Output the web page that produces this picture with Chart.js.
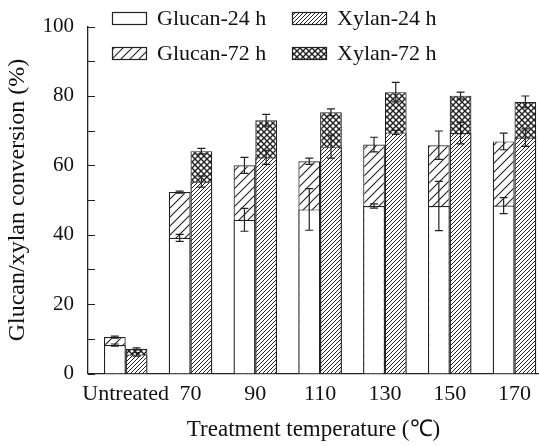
<!DOCTYPE html>
<html>
<head>
<meta charset="utf-8">
<script src="https://cdn.jsdelivr.net/npm/chart.js@4.4.1/dist/chart.umd.min.js"></script>
<style>
  html, body { margin: 0; padding: 0; background: #fff; overflow: hidden; }
</style>
</head>
<body>
<canvas id="conversionChart" width="539" height="446"></canvas>
<script>
// categories on the x axis
const categories = ['Untreated', '70', '90', '110', '130', '150', '170'];

// conversions (%), with +/- errors
const glucan24    = [8.2, 39.1, 44.3, 47.3, 48.3, 48.3, 48.4];
const glucan24Err = [0.3, 1.0, 3.3, 6.0, 0.6, 7.1, 2.3];
const glucan72    = [10.5, 52.3, 60.0, 61.2, 66.0, 65.8, 66.9];
const glucan72Err = [0.3, 0.3, 2.3, 0.9, 2.1, 4.1, 2.4];
const xylan24     = [5.5, 55.3, 62.3, 65.4, 69.5, 69.3, 68.0];
const xylan24Err  = [0.5, 1.6, 2.0, 3.3, 0.6, 3.1, 2.5];
const xylan72     = [7.1, 64.1, 73.0, 75.3, 81.1, 80.1, 78.3];
const xylan72Err  = [0.3, 0.8, 1.7, 1.0, 2.8, 1.0, 1.7];

const yTicks = [0, 20, 40, 60, 80, 100];

const ink = '#222';
const serif = "'Liberation Serif', 'Times New Roman', serif";

function makePattern(size, draw) {
  const c = document.createElement('canvas');
  c.width = size; c.height = size;
  const g = c.getContext('2d');
  g.fillStyle = '#fff';
  g.fillRect(0, 0, size, size);
  g.strokeStyle = ink;
  draw(g, size);
  return g.createPattern(c, 'repeat');
}
function slash(g, s) {      // lines x + y = k
  g.beginPath();
  [0, s, 2 * s].forEach(k => { g.moveTo(k + 1, -1); g.lineTo(k - s - 1, s + 1); });
  g.stroke();
}
function backslash(g, s) {  // lines x - y = k
  g.beginPath();
  [-s, 0, s].forEach(k => { g.moveTo(k - 1, -1); g.lineTo(k + s + 1, s + 1); });
  g.stroke();
}

const hatchWide = makePattern(9, (g, s) => { g.lineWidth = 1.1; slash(g, s); });
const hatchDense = makePattern(4, (g, s) => { g.lineWidth = 1.0; slash(g, s); });
const hatchCross = makePattern(6, (g, s) => { g.lineWidth = 1.4; slash(g, s); backslash(g, s); });

const toPoints = arr => arr.map((v, i) => ({ x: i, y: v }));

const errorBars = {
  id: 'errorBars',
  afterDatasetsDraw(chart) {
    const ctx = chart.ctx;
    const yScale = chart.scales.y;
    ctx.save();
    ctx.strokeStyle = ink;
    ctx.lineWidth = 1.2;
    chart.data.datasets.forEach((ds, di) => {
      const meta = chart.getDatasetMeta(di);
      meta.data.forEach((bar, i) => {
        const v = ds.data[i].y, e = ds.errors[i];
        const top = yScale.getPixelForValue(v + e);
        const bot = yScale.getPixelForValue(v - e);
        ctx.beginPath();
        ctx.moveTo(bar.x, top); ctx.lineTo(bar.x, bot);
        ctx.moveTo(bar.x - 4, top); ctx.lineTo(bar.x + 4, top);
        ctx.moveTo(bar.x - 4, bot); ctx.lineTo(bar.x + 4, bot);
        ctx.stroke();
      });
    });
    ctx.restore();
  }
};

// short tick marks pointing into the plot
const innerTicks = {
  id: 'innerTicks',
  afterDraw(chart) {
    const ctx = chart.ctx;
    const y = chart.scales.y;
    const left = chart.chartArea.left;
    ctx.save();
    ctx.strokeStyle = ink;
    ctx.lineWidth = 1.2;
    ctx.beginPath();
    for (let v = 0; v <= 100; v += 10) {
      const py = Math.round(y.getPixelForValue(v)) + 0.5;
      ctx.moveTo(left, py); ctx.lineTo(left + 7, py);
    }
    ctx.stroke();
    ctx.restore();
  }
};

// two-column legend sitting over the top of the plot
const boxLegend = {
  id: 'boxLegend',
  afterDraw(chart) {
    const ctx = chart.ctx;
    const slots = [[112, 12], [292, 12], [112, 47], [292, 47]];
    ctx.save();
    ctx.font = '22px ' + serif;
    ctx.textBaseline = 'middle';
    chart.data.datasets.forEach((ds, k) => {
      const [x, y] = slots[k];
      ctx.fillStyle = ds.backgroundColor;
      ctx.fillRect(x, y, 34, 12);
      ctx.strokeStyle = ink;
      ctx.lineWidth = 1.2;
      ctx.strokeRect(x + 0.5, y + 0.5, 34, 12);
      ctx.fillStyle = '#111';
      ctx.fillText(ds.label, x + 45, y + 7);
    });
    ctx.restore();
  }
};

const ctx = document.getElementById('conversionChart').getContext('2d');
const conversionChart = new Chart(ctx, {
  type: 'bar',
  data: {
    datasets: [
      { label: 'Glucan-24 h', data: toPoints(glucan24), errors: glucan24Err, stack: 'glucan', order: 0,
        backgroundColor: '#fff' },
      { label: 'Xylan-24 h', data: toPoints(xylan24), errors: xylan24Err, stack: 'xylan', order: 0,
        backgroundColor: hatchDense },
      { label: 'Glucan-72 h', data: toPoints(glucan72), errors: glucan72Err, stack: 'glucan', order: 1,
        backgroundColor: hatchWide },
      { label: 'Xylan-72 h', data: toPoints(xylan72), errors: xylan72Err, stack: 'xylan', order: 1,
        backgroundColor: hatchCross }
    ]
  },
  options: {
    responsive: false,
    animation: false,
    devicePixelRatio: 1,
    categoryPercentage: 0.67,
    barPercentage: 1.0,
    borderColor: ink,
    borderWidth: 1.2,
    layout: { padding: { top: 23, right: 0, bottom: 0, left: 0 } },
    plugins: {
      legend: { display: false },
      tooltip: { enabled: false }
    },
    scales: {
      x: {
        type: 'linear',
        offset: false,
        stacked: true,
        min: -0.582,
        max: 6.378,
        afterFit: s => { s.height = 72.5; },
        grid: { display: false, drawTicks: false, offset: false },
        border: { display: true, color: ink, width: 1.3 },
        ticks: {
          stepSize: 1,
          includeBounds: false,
          autoSkip: false,
          maxRotation: 0,
          padding: 8,
          color: '#111',
          font: { family: serif, size: 22 },
          callback: v => Number.isInteger(v) ? categories[v] : ''
        },
        title: {
          display: true,
          text: 'Treatment temperature (℃)',
          color: '#111',
          font: { family: serif, size: 23 },
          padding: { top: 0, bottom: 2 }
        }
      },
      y: {
        stacked: false,
        min: 0,
        max: 100,
        afterFit: s => { s.width = 88; },
        grid: { display: false, drawTicks: false },
        border: { display: true, color: ink, width: 1.3 },
        ticks: {
          stepSize: 10,
          padding: 14,
          color: '#111',
          font: { family: serif, size: 21 },
          callback: v => yTicks.includes(v) ? v : ''
        },
        title: {
          display: true,
          text: 'Glucan/xylan conversion (%)',
          color: '#111',
          font: { family: serif, size: 24 },
          padding: { top: 3, bottom: 0 }
        }
      }
    }
  },
  plugins: [errorBars, innerTicks, boxLegend]
});
</script>
</body>
</html>
